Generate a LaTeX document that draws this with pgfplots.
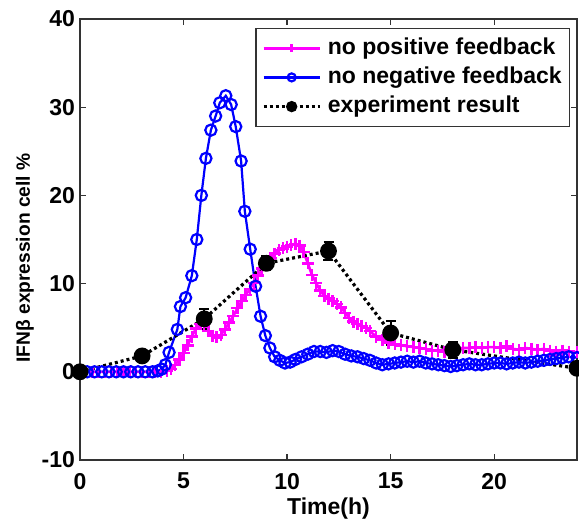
\documentclass[border=0pt]{standalone}
\usepackage{fontspec}
\setmainfont{Liberation Sans}
\usepackage{pgfplots}
\pgfplotsset{compat=1.18}
\definecolor{mgnt}{HTML}{FF00FF}
\definecolor{blu}{HTML}{0000FF}

\begin{document}
\begin{tikzpicture}
\begin{axis}[
  scale only axis,
  width=248.5pt, height=220.5pt,
  xmin=0, xmax=24, ymin=-10, ymax=40,
  xtick={0,5,10,15,20},
  ytick={-10,0,10,20,30,40},
  tick align=inside,
  major tick length=3pt,
  axis line style={black!80, line width=0.6pt},
  tick style={black!80, line width=0.6pt},
  /pgf/number format/assume math mode=true,
  tick label style={font=\fontsize{11.5}{13}\selectfont\bfseries},
  xticklabel style={yshift=-3pt},
  yticklabel style={xshift=1pt},
  xlabel={Time(h)},
  ylabel={IFNβ expression cell \%},
  every axis x label/.style={at={(axis description cs:0.5,-0.109)}, anchor=center,
    font=\fontsize{11.5}{13}\selectfont\bfseries},
  every axis y label/.style={at={(axis description cs:-0.1107,0.458)}, anchor=center, rotate=90,
    font=\fontsize{9.6}{12}\selectfont\bfseries},
  legend style={at={(axis description cs:0.9859,0.9796)}, anchor=north east,
    draw=black!80, line width=0.6pt, fill=white,
    inner xsep=3pt, inner ysep=3pt,
    font=\fontsize{11.5}{13}\selectfont\bfseries,
    nodes={inner sep=0.8pt, text height=9pt, text depth=3pt},
    /tikz/row sep=1pt, /tikz/column sep=2.5pt},
  legend cell align=left,
  legend image code/.code={\draw[mark repeat=2,mark phase=2,#1,mark size=2pt]
    plot coordinates {(0pt,0pt)(14pt,0pt)(28pt,0pt)};},
]
% no positive feedback
\addplot[color=mgnt, line width=1.3pt, mark=+, mark size=3pt, mark options={line width=1.2pt}]
  table {
x y
0 0
0.3 0
0.6 0
0.9 0
1.2 0
1.5 0
1.8 0
2.1 0
2.4 0
2.7 0
3.0 0
3.3 0
3.6 0
3.9 0
4.2 0.1
4.4 0.3
4.6 0.8
4.8 1.4
5.0 2.1
5.2 3.0
5.4 4.0
5.6 4.9
5.8 5.4
6.0 5.2
6.2 4.6
6.4 4.1
6.6 3.9
6.8 4.2
7.0 4.8
7.2 5.6
7.4 6.3
7.6 7.2
7.8 8.0
8.0 8.7
8.2 9.4
8.4 10.1
8.6 10.9
8.8 11.7
9.0 12.4
9.2 12.9
9.4 13.4
9.6 13.8
9.8 14.0
10.0 14.2
10.2 14.4
10.4 14.5
10.6 14.3
10.8 13.6
11.0 12.3
11.2 11.0
11.4 10.1
11.6 9.2
11.8 8.6
12.0 8.3
12.2 8.0
12.4 7.7
12.6 7.3
12.8 6.7
13.0 6.1
13.2 5.7
13.4 5.4
13.6 5.2
13.8 5.0
14.0 4.6
14.3 4.0
14.6 3.6
14.9 3.3
15.2 3.1
15.5 3.0
15.8 2.9
16.1 2.8
16.4 2.7
16.7 2.6
17.0 2.4
17.3 2.4
17.6 2.3
17.9 2.4
18.2 2.6
18.5 2.7
18.8 2.7
19.1 2.8
19.4 2.7
19.7 2.8
20.0 2.8
20.3 2.7
20.6 2.9
20.9 2.6
21.2 2.5
21.5 2.7
21.8 2.6
22.1 2.5
22.4 2.6
22.7 2.4
23.0 2.3
23.3 2.4
23.6 2.3
24.0 2.2
};
\addlegendentry{no positive feedback}
% no negative feedback
\addplot[color=blu, line width=1.1pt, mark=o, mark size=2.8pt, mark options={line width=1.1pt}]
  table {
x y
0 0
0.35 0
0.7 0
1.05 0
1.4 0
1.75 0
2.1 0
2.45 0
2.8 0
3.15 0
3.5 0
3.75 0.1
3.95 0.3
4.12 0.8
4.3 2.2
4.7 4.8
4.85 7.4
5.1 8.4
5.4 10.9
5.64 15.0
5.86 20.0
6.08 24.2
6.32 27.4
6.55 29.0
6.75 30.5
7.04 31.3
7.3 30.3
7.52 27.8
7.78 23.9
7.96 18.2
8.22 13.9
8.48 9.7
8.72 6.3
8.95 4.1
9.17 2.7
9.4 1.7
9.65 1.3
9.9 1.0
10.15 1.1
10.4 1.4
10.7 1.7
11.0 2.0
11.3 2.3
11.6 2.3
11.9 2.2
12.2 2.4
12.5 2.3
12.8 2.0
13.1 1.8
13.4 1.7
13.7 1.5
14.0 1.3
14.3 1.0
14.6 0.8
14.9 0.9
15.2 1.0
15.5 1.1
15.8 1.2
16.1 1.1
16.4 1.2
16.7 1.0
17.0 0.9
17.3 0.8
17.6 0.7
17.9 0.6
18.2 0.7
18.5 0.8
18.8 0.9
19.1 0.8
19.4 0.8
19.7 0.9
20.0 1.0
20.3 1.0
20.6 0.9
20.9 1.0
21.2 1.1
21.5 1.0
21.8 1.1
22.1 1.2
22.4 1.3
22.7 1.4
23.0 1.5
23.3 1.6
23.6 1.7
24.0 1.6
};
\addlegendentry{no negative feedback}
% experiment result
\addplot[black, line width=1.6pt, dash pattern=on 1.5pt off 1.5pt,
  mark=*, mark size=3.4pt, mark options={solid},
  error bars/.cd, y dir=both, y explicit,
  error bar style={solid, line width=1pt},
  error mark options={rotate=90, mark size=2.5pt, line width=1pt}]
  table[x=x, y=y, y error=e] {
x y e
0 0 0
3 1.8 0.3
6 6.0 1.1
9 12.3 0.8
12 13.7 1.0
15 4.4 1.4
18 2.5 0.9
24 0.4 0
};
\addlegendentry{experiment result}
\end{axis}
\pgfresetboundingbox
\path (-40pt,-30pt) rectangle (249.5pt,230pt);
\end{tikzpicture}
\end{document}
